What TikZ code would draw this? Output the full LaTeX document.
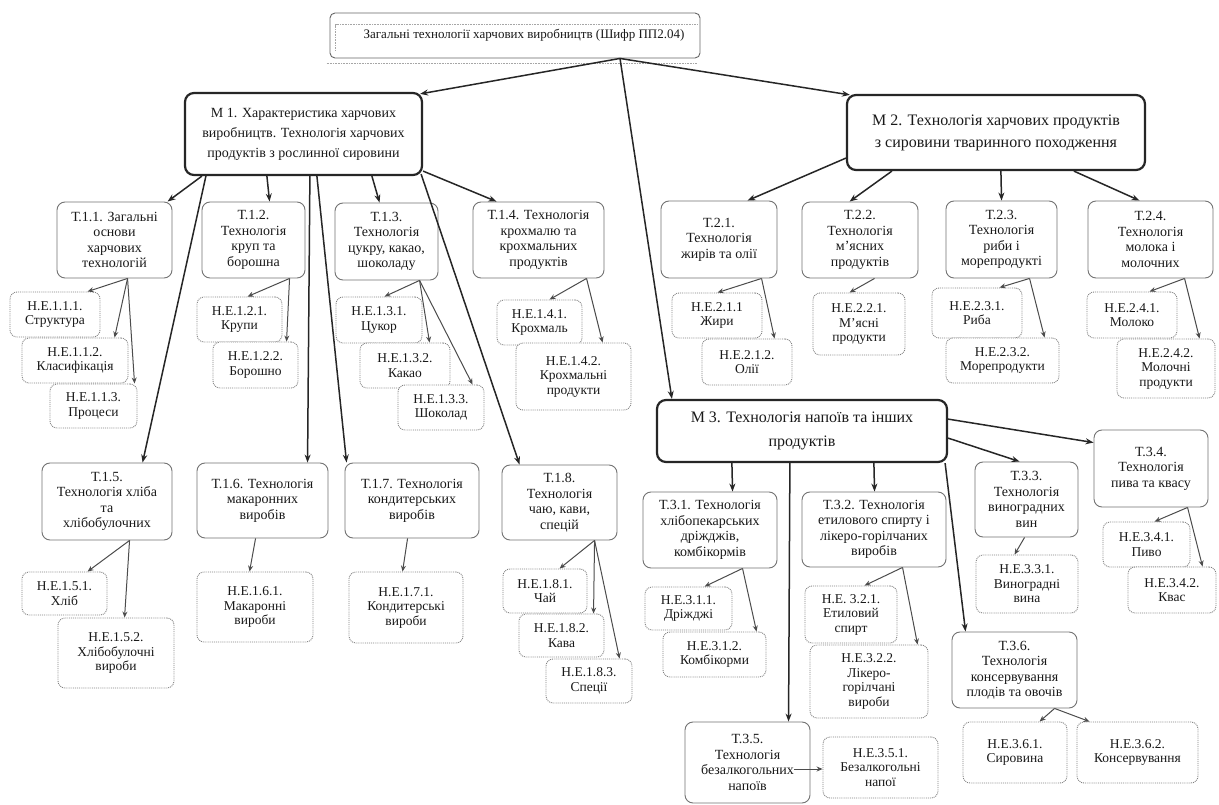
\documentclass[tikz,border=0pt]{standalone}
\usepackage{fontspec}
\setmainfont{Liberation Serif}
\usetikzlibrary{arrows.meta}
\begin{document}
\begin{tikzpicture}[x=1pt,y=-1pt,
 every node/.style={text=black!90, align=center, inner sep=1pt},
 sz/.style 2 args={minimum width=#1, minimum height=#2},
 titlebox/.style={draw=black!60, line width=0.9pt, rounded corners=5pt, fill=white, font=\fontsize{13}{14}\selectfont},
 mbox/.style={draw=black!85, line width=2.2pt, rounded corners=9pt, fill=white},
 tbox/.style={draw=black!55, line width=0.9pt, rounded corners=8pt, fill=white, font=\fontsize{14}{15.5}\selectfont},
 hbox/.style={draw=black!50, line width=0.9pt, densely dotted, rounded corners=7pt, fill=white, font=\fontsize{13.5}{14.5}\selectfont},
 marr/.style={draw=black!85, line width=1.5pt, -{Stealth[length=8pt,width=6pt]}},
 sarr/.style={draw=black!70, line width=1pt, -{Stealth[length=6pt,width=5pt]}},
]
\useasboundingbox (0,0) rectangle (1219,805);
\fill[white] (0,0) rectangle (1219,805);

% title and modules
\node[titlebox, sz={370}{45}] (title) at (515,35.5) {\hspace*{18pt}Загальні технології харчових виробництв (Шифр ПП2.04)};
\draw[black!35, densely dotted, line width=0.6pt] ([xshift=-3,yshift=-5]title.south west) -- ([xshift=-3,yshift=-5]title.south east);
\draw[black!35, densely dotted, line width=0.6pt] ([xshift=6,yshift=8]title.south west) |- ([xshift=-3,yshift=-12]title.north east);

\node[mbox, sz={237}{82}, font=\fontsize{14}{20}\selectfont] (M1) at (303.5,134) {М 1. Характеристика харчових\\виробництв. Технологія харчових\\продуктів з рослинної сировини};
\node[mbox, sz={298}{75}, font=\fontsize{16}{22}\selectfont] (M2) at (996,132.5) {М 2. Технологія харчових продуктів\\з сировини тваринного походження};
\node[mbox, sz={290}{62}, font=\fontsize{16}{24}\selectfont] (M3) at (802,431) {М 3. Технологія напоїв та інших\\продуктів};

% topics M1
\node[tbox, sz={115}{76}] (T11) at (114.5,240) {Т.1.1. Загальні\\основи\\харчових\\технологій};
\node[tbox, sz={103}{76}] (T12) at (253.5,240) {Т.1.2.\\Технологія\\круп та\\борошна};
\node[tbox, sz={103}{77}] (T13) at (386.5,241.5) {Т.1.3.\\Технологія\\цукру, какао,\\шоколаду};
\node[tbox, sz={131}{76}] (T14) at (538.5,240) {Т.1.4. Технологія\\крохмалю та\\крохмальних\\продуктів};
\node[tbox, sz={130}{77}] (T15) at (107,501.5) {Т.1.5.\\Технологія хліба\\та\\хлібобулочних};
\node[tbox, sz={131}{75}] (T16) at (262.5,500.5) {Т.1.6. Технологія\\макаронних\\виробів};
\node[tbox, sz={134}{75}] (T17) at (412,500.5) {Т.1.7. Технологія\\кондитерських\\виробів};
\node[tbox, sz={115}{75}] (T18) at (559.5,502.5) {Т.1.8.\\Технологія\\чаю, кави,\\спецій};
% topics M2
\node[tbox, sz={116}{77}] (T21) at (719,239.5) {Т.2.1.\\Технологія\\жирів та олії};
\node[tbox, sz={116}{76}] (T22) at (860,240) {Т.2.2.\\Технологія\\м'ясних\\продуктів};
\node[tbox, sz={111}{77}] (T23) at (1001.5,239.5) {Т.2.3.\\Технологія\\риби і\\морепродукті};
\node[tbox, sz={125}{77}] (T24) at (1150.5,239.5) {Т.2.4.\\Технологія\\молока і\\молочних};
% topics M3
\node[tbox, sz={134}{76}] (T31) at (710,530) {Т.3.1. Технологія\\хлібопекарських\\дріжджів,\\комбікормів};
\node[tbox, sz={144}{75}] (T32) at (874,529.5) {Т.3.2. Технологія\\етилового спирту і\\лікеро-горілчаних\\виробів};
\node[tbox, sz={103}{75}] (T33) at (1026.5,499.5) {Т.3.3.\\Технологія\\виноградних\\вин};
\node[tbox, sz={114}{77}] (T34) at (1151,468.5) {Т.3.4.\\Технологія\\пива та квасу};
\node[tbox, sz={125}{81}] (T35) at (747.5,762.5) {Т.3.5.\\Технологія\\безалкогольних\\напоїв};
\node[tbox, sz={125}{76}] (T36) at (1014.5,670) {Т.3.6.\\Технологія\\консервування\\плодів та овочів};

% elements
\node[hbox, sz={90}{45}] (H111) at (55,314.5) {Н.Е.1.1.1.\\Структура};
\node[hbox, sz={106}{45}] (H112) at (75,360.5) {Н.Е.1.1.2.\\Класифікація};
\node[hbox, sz={87}{44}] (H113) at (93.5,406) {Н.Е.1.1.3.\\Процеси};
\node[hbox, sz={85}{45}] (H121) at (239.5,319.5) {Н.Е.1.2.1.\\Крупи};
\node[hbox, sz={85}{46}] (H122) at (255.5,365) {Н.Е.1.2.2.\\Борошно};
\node[hbox, sz={86}{46}] (H131) at (379,320) {Н.Е.1.3.1.\\Цукор};
\node[hbox, sz={90}{45}] (H132) at (405,365.5) {Н.Е.1.3.2.\\Какао};
\node[hbox, sz={86}{45}] (H133) at (441,407.5) {Н.Е.1.3.3.\\Шоколад};
\node[hbox, sz={85}{45}] (H141) at (539.5,322.5) {Н.Е.1.4.1.\\Крохмаль};
\node[hbox, sz={115}{67}] (H142) at (573.5,376.5) {Н.Е.1.4.2.\\Крохмальні\\продукти};
\node[hbox, sz={85}{43}] (H151) at (64.5,593.5) {Н.Е.1.5.1.\\Хліб};
\node[hbox, sz={116}{70}] (H152) at (116,653) {Н.Е.1.5.2.\\Хлібобулочні\\вироби};
\node[hbox, sz={116}{70}] (H161) at (255,607) {Н.Е.1.6.1.\\Макаронні\\вироби};
\node[hbox, sz={114}{71}] (H171) at (406,607.5) {Н.Е.1.7.1.\\Кондитерські\\вироби};
\node[hbox, sz={84}{44}] (H181) at (545,591) {Н.Е.1.8.1.\\Чай};
\node[hbox, sz={85}{43}] (H182) at (561.5,635.5) {Н.Е.1.8.2.\\Кава};
\node[hbox, sz={86}{44}] (H183) at (589,681) {Н.Е.1.8.3.\\Спеції};
\node[hbox, sz={90}{45}] (H211) at (717,315.5) {Н.Е.2.1.1\\Жири};
\node[hbox, sz={90}{46}] (H212) at (747,362) {Н.Е.2.1.2.\\Олії};
\node[hbox, sz={92}{62}] (H221) at (859,324) {Н.Е.2.2.1.\\М'ясні\\продукти};
\node[hbox, sz={90}{50}] (H231) at (977,313) {Н.Е.2.3.1.\\Риба};
\node[hbox, sz={113}{45}] (H232) at (1002.5,360.5) {Н.Е.2.3.2.\\Морепродукти};
\node[hbox, sz={90}{46}] (H241) at (1132,315) {Н.Е.2.4.1.\\Молоко};
\node[hbox, sz={98}{59}] (H242) at (1166,368.5) {Н.Е.2.4.2.\\Молочні\\продукти};
\node[hbox, sz={87}{43}] (H311) at (688.5,608.5) {Н.Е.3.1.1.\\Дріжджі};
\node[hbox, sz={103}{45}] (H312) at (714.5,654.5) {Н.Е.3.1.2.\\Комбікорми};
\node[hbox, sz={92}{57}] (H321) at (851,614.5) {Н.Е. 3.2.1.\\Етиловий\\спирт};
\node[hbox, sz={118}{73}] (H322) at (869,681.5) {Н.Е.3.2.2.\\Лікеро-\\горілчані\\вироби};
\node[hbox, sz={102}{58}] (H331) at (1027,584) {Н.Е.3.3.1.\\Виноградні\\вина};
\node[hbox, sz={87}{45}] (H341) at (1146.5,544.5) {Н.Е.3.4.1.\\Пиво};
\node[hbox, sz={88}{46}] (H342) at (1172,590) {Н.Е.3.4.2.\\Квас};
\node[hbox, sz={115}{61}] (H351) at (880.5,767.5) {Н.Е.3.5.1.\\Безалкогольні\\напої};
\node[hbox, sz={104}{61}] (H361) at (1015,752.5) {Н.Е.3.6.1.\\Сировина};
\node[hbox, sz={121}{61}] (H362) at (1137.5,752.5) {Н.Е.3.6.2.\\Консервування};

% main connectors
\draw[marr] ([xshift=105]title.south) -- ([xshift=-3,yshift=-2]M1.north east);
\draw[marr] ([xshift=105]title.south) -- ([xshift=4,yshift=-1]M2.north west);
\draw[marr] ([xshift=105]title.south) -- ([xshift=16]M3.north west);

\draw[marr] ([xshift=18]M1.south west) -- ([xshift=111]T11.north west);
\draw[marr] ([xshift=22]M1.south west) -- ([xshift=101]T15.north west);
\draw[marr] ([xshift=83]M1.south west) -- ([xshift=68]T12.north west);
\draw[marr] ([xshift=126]M1.south west) -- ([xshift=111]T16.north west);
\draw[marr] ([xshift=133]M1.south west) -- ([xshift=2]T17.north west);
\draw[marr] ([xshift=188]M1.south west) -- ([xshift=45]T13.north west);
\draw[marr] ([xshift=-2,yshift=2]M1.south east) -- ([xshift=18]T18.north west);
\draw[marr] ([yshift=5]M1.south east) -- ([xshift=24]T14.north west);

\draw[marr] ([yshift=13]M2.south west) -- ([xshift=87]T21.north west);
\draw[marr] ([xshift=46]M2.south west) -- ([xshift=48]T22.north west);
\draw[marr] ([xshift=155]M2.south west) -- ([xshift=56]T23.north west);
\draw[marr] ([xshift=228]M2.south west) -- ([xshift=52]T24.north west);

\draw[marr] ([xshift=76]M3.south west) -- ([xshift=90]T31.north west);
\draw[marr] ([xshift=134]M3.south west) -- ([xshift=104]T35.north west);
\draw[marr] ([xshift=218]M3.south west) -- ([xshift=73]T32.north west);
\draw[marr] ([xshift=-3]M3.south east) -- ([xshift=14]T36.north west);
\draw[marr] ([yshift=25]M3.south east) -- ([xshift=45]T33.north west);
\draw[marr] ([yshift=44]M3.south east) -- ([yshift=-13]T34.north west);

% sub connectors
\draw[sarr] ([xshift=71]T11.south west) -- ([xshift=78]H111.north west);
\draw[sarr] ([xshift=71]T11.south west) -- ([xshift=93]H112.north west);
\draw[sarr] ([xshift=71]T11.south west) -- ([xshift=85]H113.north west);
\draw[sarr] ([xshift=88]T12.south west) -- ([xshift=51]H121.north west);
\draw[sarr] ([xshift=88]T12.south west) -- ([xshift=74]H122.north west);
\draw[sarr] ([xshift=85]T13.south west) -- ([xshift=49]H131.north west);
\draw[sarr] ([xshift=85]T13.south west) -- ([xshift=70]H132.north west);
\draw[sarr] ([xshift=85]T13.south west) -- ([xshift=75]H133.north west);
\draw[sarr] ([xshift=114]T14.south west) -- ([xshift=53]H141.north west);
\draw[sarr] ([xshift=114]T14.south west) -- ([xshift=87]H142.north west);
\draw[sarr] ([xshift=88]T15.south west) -- ([xshift=66]H151.north west);
\draw[sarr] ([xshift=88]T15.south west) -- ([xshift=67]H152.north west);
\draw[sarr] ([xshift=59]T16.south west) -- ([xshift=53]H161.north west);
\draw[sarr] ([xshift=63]T17.south west) -- ([xshift=54]H171.north west);
\draw[sarr] ([xshift=93]T18.south west) -- ([xshift=57]H181.north west);
\draw[sarr] ([xshift=93]T18.south west) -- ([xshift=75]H182.north west);
\draw[sarr] ([xshift=93]T18.south west) -- ([xshift=74]H183.north west);
\draw[sarr] ([xshift=101]T21.south west) -- ([xshift=46]H211.north west);
\draw[sarr] ([xshift=101]T21.south west) -- ([xshift=73]H212.north west);
\draw[sarr] ([xshift=73]T22.south west) -- ([xshift=37]H221.north west);
\draw[sarr] ([xshift=84]T23.south west) -- ([xshift=68]H231.north west);
\draw[sarr] ([xshift=84]T23.south west) -- ([xshift=99]H232.north west);
\draw[sarr] ([xshift=97]T24.south west) -- ([xshift=63]H241.north west);
\draw[sarr] ([xshift=97]T24.south west) -- ([xshift=83]H242.north west);
\draw[sarr] ([xshift=100]T31.south west) -- ([xshift=60]H311.north west);
\draw[sarr] ([xshift=100]T31.south west) -- ([xshift=94]H312.north west);
\draw[sarr] ([xshift=101]T32.south west) -- ([xshift=60]H321.north west);
\draw[sarr] ([xshift=101]T32.south west) -- ([xshift=108]H322.north west);
\draw[sarr] ([xshift=50]T33.south west) -- ([xshift=39]H331.north west);
\draw[sarr] ([xshift=94]T34.south west) -- ([xshift=52]H341.north west);
\draw[sarr] ([xshift=94]T34.south west) -- ([xshift=75]H342.north west);
\draw[sarr] ([xshift=-16,yshift=-6.5]T35.east) -- ([yshift=-1.5]H351.west);
\draw[sarr] ([xshift=103]T36.south west) -- ([xshift=77]H361.north west);
\draw[sarr] ([xshift=103]T36.south west) -- ([xshift=13]H362.north west);
\end{tikzpicture}
\end{document}
